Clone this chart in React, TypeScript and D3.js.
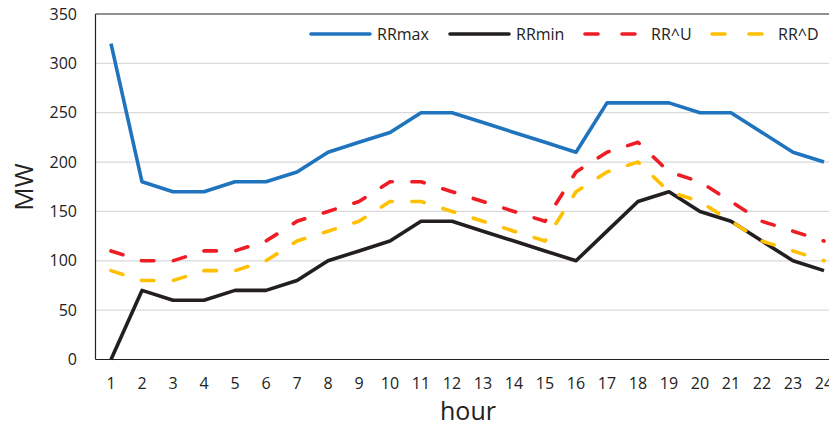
import React from "react";
import * as d3 from "d3";

const hours = d3.range(1, 25).map(String);
const rrMax = [320,180,170,170,180,180,190,210,220,230,250,250,240,230,220,210,260,260,260,250,250,230,210,200];
const rrMin = [0,70,60,60,70,70,80,100,110,120,140,140,130,120,110,100,130,160,170,150,140,120,100,90];
const rrU = [110,100,100,110,110,120,140,150,160,180,180,170,160,150,140,190,210,220,190,180,160,140,130,120];
const rrD = [90,80,80,90,90,100,120,130,140,160,160,150,140,130,120,170,190,200,170,160,140,120,110,100];
const yTicks = [0,50,100,150,200,250,300,350];

const series = [
  { name: "RRmax", values: rrMax, color: "#1f74bd", dash: null },
  { name: "RRmin", values: rrMin, color: "#231f20", dash: null },
  { name: "RR^U", values: rrU, color: "#ee1c25", dash: "12.5 19.5" },
  { name: "RR^D", values: rrD, color: "#ffc000", dash: "12.5 19.5" },
];

const legendPos = [311, 450, 585, 712];

export default function App() {
  const W = 829, H = 426;
  const left = 95.5, top = 14, bottom = 359.5;
  const step = 31;
  const x = d3.scaleBand().domain(hours).range([left, left + step * 24]).padding(0);
  const cx = (h: string) => (x(h) as number) + x.bandwidth() / 2;
  const y = d3.scaleLinear().domain([0, 350]).range([bottom, top]);
  const font = "'Open Sans', sans-serif";
  const line = d3.line<number>().x((_, i) => cx(hours[i])).y((v) => y(v));

  return (
    <svg width={W} height={H} style={{ position: "absolute", left: 0, top: 0, background: "#fff" }}>
      {yTicks.map((t) => (
        <g key={t}>
          {t > 0 && t < 350 && (
            <line x1={left} x2={W} y1={y(t)} y2={y(t)} stroke="#d9d9d9" strokeWidth={1.2} />
          )}
          <text x={77} y={y(t)} dy="0.35em" textAnchor="end" fontFamily={font} fontSize={16} fill="#222">
            {t}
          </text>
        </g>
      ))}
      <line x1={left} x2={W} y1={top} y2={top} stroke="#222" strokeWidth={1.2} />
      <line x1={left} x2={left} y1={top} y2={bottom} stroke="#222" strokeWidth={1.2} />
      <line x1={left} x2={W} y1={bottom} y2={bottom} stroke="#222" strokeWidth={1.2} />
      {hours.map((h) => (
        <text key={h} x={cx(h)} y={389} textAnchor="middle" fontFamily={font} fontSize={16} fill="#222">
          {h}
        </text>
      ))}
      <text x={468} y={420} textAnchor="middle" fontFamily={font} fontSize={25} fill="#222">hour</text>
      <text transform={`translate(33,187) rotate(-90)`} textAnchor="middle" fontFamily={font} fontSize={26} fill="#222">MW</text>
      {series.map((s) => (
        <path key={s.name} d={line(s.values) as string} fill="none" stroke={s.color} strokeWidth={3.6}
          strokeDasharray={s.dash ?? undefined} strokeLinecap={s.dash ? "round" : "butt"} strokeLinejoin="round" />
      ))}
      {series.map((s, i) => (
        <g key={s.name}>
          <line x1={legendPos[i]} x2={legendPos[i] + 59} y1={34} y2={34} stroke={s.color} strokeWidth={3.6}
            strokeDasharray={s.dash ? "13 24" : undefined} strokeLinecap="round" />
          <text x={legendPos[i] + 66} y={34} dy="0.35em" fontFamily={font} fontSize={16} fill="#222">{s.name}</text>
        </g>
      ))}
    </svg>
  );
}
